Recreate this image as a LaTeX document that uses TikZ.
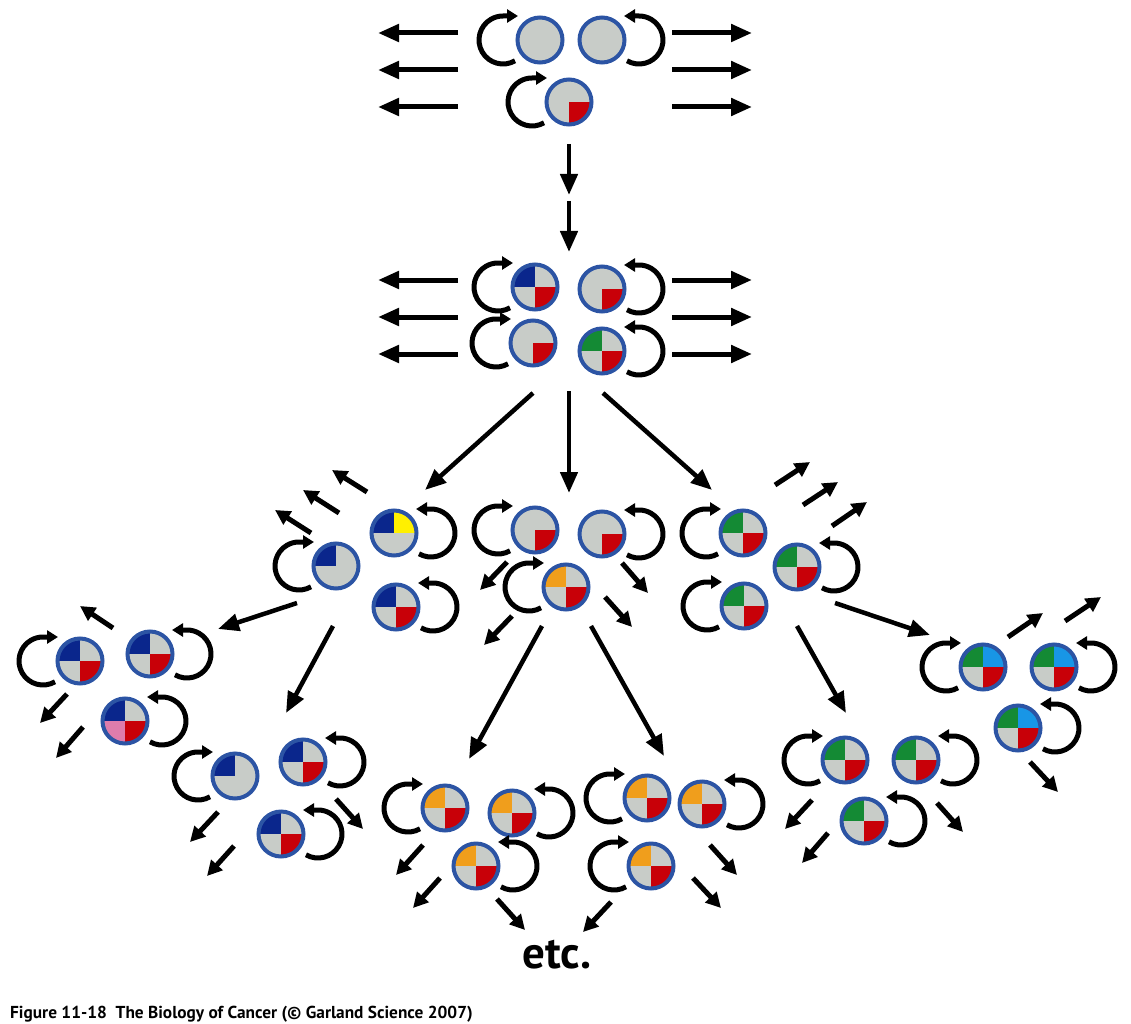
\documentclass[tikz,border=0pt]{standalone}
\usepackage{fontspec}
\setsansfont{PT Sans}
\usetikzlibrary{arrows.meta}
\definecolor{rim}{RGB}{44,84,164}
\definecolor{cg}{RGB}{200,204,200}
\definecolor{nv}{RGB}{10,38,140}
\definecolor{rd}{RGB}{200,0,8}
\definecolor{gr}{RGB}{20,138,52}
\definecolor{or}{RGB}{240,158,28}
\definecolor{ye}{RGB}{255,240,0}
\definecolor{sk}{RGB}{24,150,230}
\definecolor{pk}{RGB}{222,124,172}
\begin{document}
\begin{tikzpicture}[x=1pt,y=-1pt]
\tikzset{mycell/.style n args={4}{circle, draw=rim, line width=4pt, fill=cg, minimum size=45pt, inner sep=0pt,
  path picture={
  \fill[#1] (path picture bounding box.center) rectangle (path picture bounding box.north west);
  \fill[#2] (path picture bounding box.center) rectangle (path picture bounding box.north east);
  \fill[#3] (path picture bounding box.center) rectangle (path picture bounding box.south west);
  \fill[#4] (path picture bounding box.center) rectangle (path picture bounding box.south east);}},
  myloop/.style={line width=5pt, -{Triangle[length=11pt,width=13pt]}},
  myside/.style={line width=5pt, -{Triangle[length=21pt,width=17pt]}},
  mygen/.style={line width=4.5pt, -{Triangle[length=21pt,width=17pt]}},
  myspill/.style={line width=5pt, -{Triangle[length=15pt,width=15pt]}}}
\useasboundingbox (0,0) rectangle (1131,1024);
% cells: name/x/y/top left/top right/bottom left/bottom right/loop side
\foreach \n/\x/\y/\a/\b/\c/\d/\s in {
  A1/540/40/cg/cg/cg/cg/-1, A2/602/40/cg/cg/cg/cg/1, A3/569/102/cg/cg/cg/rd/-1,
  B1/535/287/nv/cg/cg/rd/-1, B2/602/289/cg/cg/cg/rd/1, B3/533/343/cg/cg/cg/rd/-1, B4/602/351/gr/cg/cg/rd/1,
  C1/336/566/nv/cg/cg/cg/-1, C2/394/533/nv/ye/cg/cg/1, C3/396/607/nv/cg/cg/rd/1,
  M1/535/530/cg/cg/cg/rd/-1, M2/602/534/cg/cg/cg/rd/1, M3/566/587/or/cg/cg/rd/-1,
  R1/743/533/gr/cg/cg/rd/-1, R2/797/567/gr/cg/cg/rd/1, R3/744/606/gr/cg/cg/rd/-1,
  L1/80/661/nv/cg/cg/rd/-1, L2/150/654/nv/cg/cg/rd/1, L3/125/721/nv/cg/pk/rd/1,
  D1/235/776/nv/cg/cg/cg/-1, D2/303/762/nv/cg/cg/rd/1, D3/281/834/nv/cg/cg/rd/1,
  E1/445/808/or/cg/cg/rd/-1, E2/512/813/or/cg/cg/rd/1, E3/476/866/or/cg/cg/rd/1,
  F1/647/798/or/cg/cg/rd/-1, F2/702/804/or/cg/cg/rd/1, F3/651/866/or/cg/cg/rd/-1,
  T1/845/760/gr/cg/cg/rd/-1, T2/916/760/gr/cg/cg/rd/1, T3/864/821/gr/cg/cg/rd/1,
  S1/983/667/gr/sk/cg/rd/-1, S2/1054/667/gr/sk/cg/rd/1, S3/1018/728/gr/sk/cg/rd/1}
{
  \node[mycell={\a}{\b}{\c}{\d}] (\n) at (\x,\y) {};
  \draw[myloop] (\n.center) ++(37*\s,0) ++({90+30*(\s)}:24) arc[start angle={90+30*(\s)}, end angle={90-180*(\s)}, radius=24] -- ++({-15*(\s)},0);
}
% cells leaving sideways
\foreach \y in {33,70,107,280,317,354}
{
  \draw[myside] (458,\y) -- (378,\y);
  \draw[myside] (672,\y) -- (752,\y);
}
% next generations
\foreach \xa/\ya/\xb/\yb in {569/144/569/195, 569/201/569/252, 533/393/425/490, 569/391/569/493, 603/393/712/490,
  297/603/218/629, 333/626/286/713, 542/626/469/759, 591/626/664/756, 835/603/930/635, 797/626/846/713}
  \draw[mygen] (\xa,\ya) -- (\xb,\yb);
% cells spilling out
\foreach \xa/\ya/\xb/\yb in {367/492/332/470, 339/513/303/490, 311/533/275/510,
  507/562/480/590, 622/563/648/593, 512/616/484/645, 605/597/632/627,
  775/485/810/462, 803/505/838/482, 832/526/867/502,
  113/628/80/606, 67/694/40/723, 83/727/56/758,
  218/812/190/842, 234/846/207/876, 336/799/363/829,
  423/845/396/875, 440/878/413/908, 497/899/525/930, 611/902/583/932, 710/845/737/875, 693/878/721/908,
  812/800/785/829, 828/833/802/863, 937/803/963/832,
  1008/637/1043/613, 1065/621/1101/597, 1030/762/1058/792}
  \draw[myspill] (\xa,\ya) -- (\xb,\yb);
\node[anchor=base west, inner sep=0pt, font=\sffamily\bfseries\fontsize{45}{45}\selectfont] (etc) at (522,968) {etc.};
\node[anchor=base west, inner sep=0pt, font=\sffamily\bfseries\fontsize{17.3}{17.3}\selectfont] (caption) at (10,1018) {Figure 11-18\ \ The Biology of Cancer (© Garland Science 2007)};
\end{tikzpicture}
\end{document}
